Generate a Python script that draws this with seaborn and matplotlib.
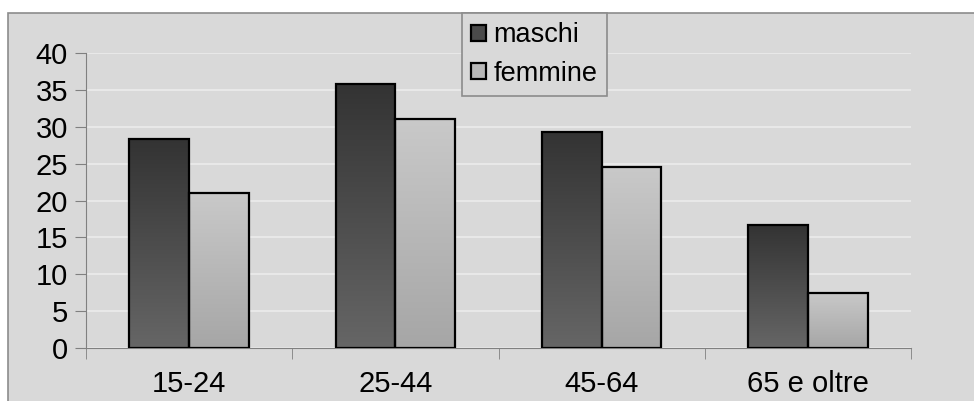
import numpy as np
import pandas as pd
import seaborn as sns
import matplotlib.pyplot as plt
from matplotlib.colors import LinearSegmentedColormap
from matplotlib.patches import Rectangle

# dati
classi = ['15-24', '25-44', '45-64', '65 e oltre']
maschi = [28.3, 35.8, 29.3, 16.7]
femmine = [21.0, 31.0, 24.5, 7.5]
serie = ['maschi', 'femmine']

df = pd.DataFrame({
    'classe': classi * 2,
    'valore': maschi + femmine,
    'sesso': ['maschi'] * len(classi) + ['femmine'] * len(classi),
})

sns.set_style('white')
plt.rcParams['font.family'] = ['Liberation Sans', 'DejaVu Sans']
plt.rcParams['text.color'] = 'black'
plt.rcParams['xtick.color'] = 'black'
plt.rcParams['ytick.color'] = 'black'

fig = plt.figure(figsize=(9.74, 4.01), dpi=100)
fig.patch.set_facecolor('white')
# riquadro grigio dell'area del grafico
fig.patches.append(Rectangle((8 / 974, -0.01), 1, 1.01 - 13 / 401, transform=fig.transFigure,
                             facecolor='#d9d9d9', edgecolor='#8c8c8c', linewidth=1.2, zorder=-5))

ax = fig.add_axes([86 / 974, 1 - 348 / 401, (911 - 86) / 974, (348 - 53) / 401])
ax.set_zorder(1)
ax.set_facecolor('#d9d9d9')

sns.barplot(data=df, x='classe', y='valore', hue='sesso', hue_order=serie, width=0.58,
            palette=['#4a4a4a', '#b8b8b8'], edgecolor='black', linewidth=1.6,
            saturation=1, ax=ax, zorder=3)

# riempimento sfumato delle barre
grad = np.linspace(0, 1, 256).reshape(-1, 1)
cmap_m = LinearSegmentedColormap.from_list('m', ['#666666', '#333333'])
cmap_f = LinearSegmentedColormap.from_list('f', ['#a6a6a6', '#c9c9c9'])
for i, cont in enumerate(ax.containers):
    cm = cmap_m if i == 0 else cmap_f
    for p in cont.patches:
        x0, y0 = p.get_x(), p.get_y()
        w, h = p.get_width(), p.get_height()
        im = ax.imshow(grad, cmap=cm, aspect='auto', origin='lower',
                       extent=[x0, x0 + w, y0, y0 + h], zorder=3.5)
        im.set_clip_path(p)
        p.set_facecolor('none')
        p.set_zorder(4)

ax.set_xlim(-0.5, len(classi) - 0.5)
ax.set_ylim(0, 40)
ax.set_yticks(range(0, 41, 5))
ax.yaxis.grid(True, color='#ececec', linewidth=1.2, zorder=1)
ax.set_axisbelow(True)

for s in ['top', 'right']:
    ax.spines[s].set_visible(False)
ax.spines['left'].set_color('#808080')
ax.spines['bottom'].set_color('#808080')

ax.tick_params(axis='y', which='major', direction='out', length=8, color='#808080',
               labelcolor='black', labelsize=21, pad=5, left=True)
ax.set_xticks(np.arange(-0.5, len(classi), 1), minor=True)
ax.tick_params(axis='x', which='minor', direction='out', length=8, color='#808080', bottom=True)
ax.tick_params(axis='x', which='major', length=0, labelcolor='black', labelsize=21, pad=16)
ax.set_xlabel('')
ax.set_ylabel('')

ax.get_legend().remove()
handles, labels = ax.get_legend_handles_labels()
leg = fig.legend(handles, labels, loc='upper left', bbox_to_anchor=(462 / 974, 1 - 13 / 401),
                 borderaxespad=0, frameon=True, fancybox=False, facecolor='#d9d9d9',
                 edgecolor='#8c8c8c', fontsize=19.5, handlelength=0.55, handleheight=0.55,
                 handletextpad=0.25, labelspacing=0.45, borderpad=0.35, framealpha=1)
leg.get_frame().set_linewidth(1.2)
leg.set_zorder(10)
for t in leg.get_texts():
    t.set_color('black')

fig.savefig('out.png', dpi=100)
